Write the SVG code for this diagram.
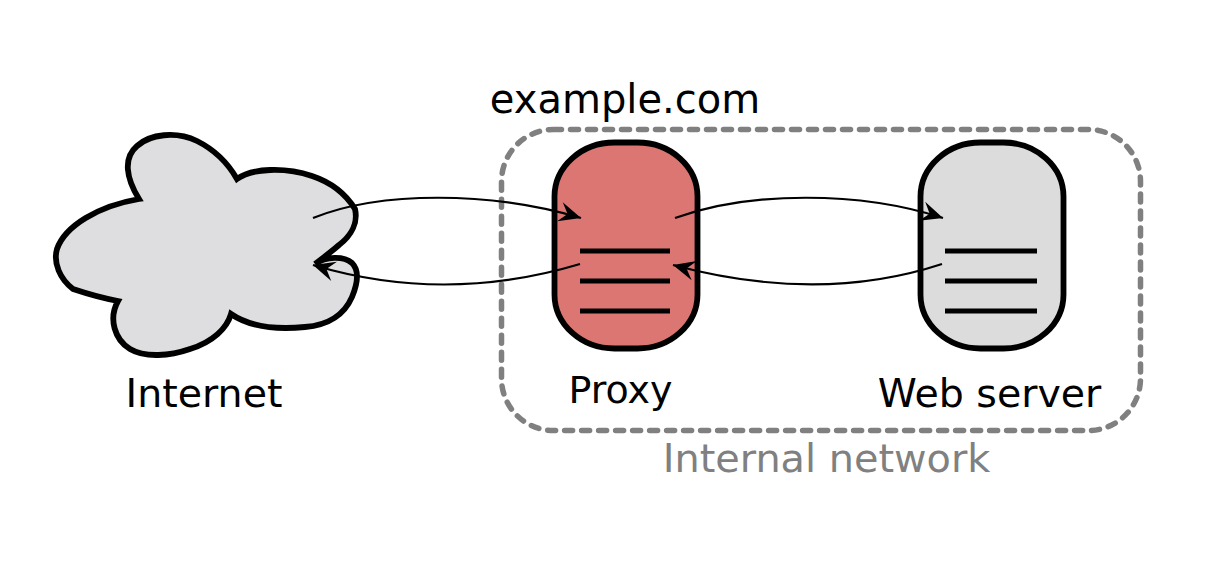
<svg xmlns="http://www.w3.org/2000/svg" width="1218" height="564" viewBox="0 0 1218 564">
<style>
text{font-family:"DejaVu Sans",sans-serif;font-size:39.500px;fill:#000}
.body{stroke:#000;stroke-width:5.800}
.slot{stroke:#000;stroke-width:5;fill:none}
.conn{fill:none;stroke:#000;stroke-width:2.200;marker-end:url(#arrow)}
</style>
<defs>
<marker id="arrow" markerUnits="userSpaceOnUse" markerWidth="28" markerHeight="24" refX="22" refY="10" orient="auto" overflow="visible">
<path d="M0 0L22 10L0 20L8 10Z" fill="#000"/>
</marker>
</defs>
<rect width="1218" height="564" fill="#fff"/>
<g id="network">
<rect x="501.500" y="129.500" width="639" height="301" rx="52" fill="none" stroke="#808080" stroke-width="5.500" stroke-linecap="round" stroke-dasharray="8 9"/>
<text x="826.500" y="472" text-anchor="middle" style="fill:#808080;font-size:39.800px">Internal network</text>
<text x="625" y="113" text-anchor="middle" style="font-size:40px">example.com</text>
</g>
<g id="internet">
<path class="body" fill="#dedee0" d="M139 199C126 178 123 158 137 146C150 134 176 131 197 141C215 150 229 165 237 179C252 168 285 167 312 176C333 183 347 196 355 209C358 222 352 235 339 245C331 252 323 258 315 264C326 256 344 256 352 263C360 271 357 285 352 297C345 313 330 325 305 327C275 330 250 327 231 314C227 328 213 342 190 349C170 356 145 358 130 349C115 340 108 319 118 301C102 298 88 294 73 289C60 279 53 263 57 249C65 226 98 206 139 199Z"/>
<text x="204" y="407" text-anchor="middle">Internet</text>
</g>
<g id="proxy">
<rect class="body" x="554.500" y="142.500" width="143" height="206" rx="60" ry="54" fill="#dc7673"/>
<path class="slot" d="M580 251H670M580 281H670M580 311H670"/>
<text x="620.500" y="403" text-anchor="middle" style="font-size:38px">Proxy</text>
</g>
<g id="webserver">
<rect class="body" x="920.500" y="142.500" width="143" height="206" rx="60" ry="54" fill="#dcdcdc"/>
<path class="slot" d="M945 251H1037M945 281H1037M945 311H1037"/>
<text x="989.500" y="407" text-anchor="middle">Web server</text>
</g>
<g id="connectors">
<path class="conn" d="M313 218C380 191 490 191 581 218"/>
<path class="conn" d="M580 264C490 291 400 291 313 265"/>
<path class="conn" d="M675 218C750 191 860 191 943 218"/>
<path class="conn" d="M942 264C860 291 770 291 673 265"/>
</g>
</svg>
